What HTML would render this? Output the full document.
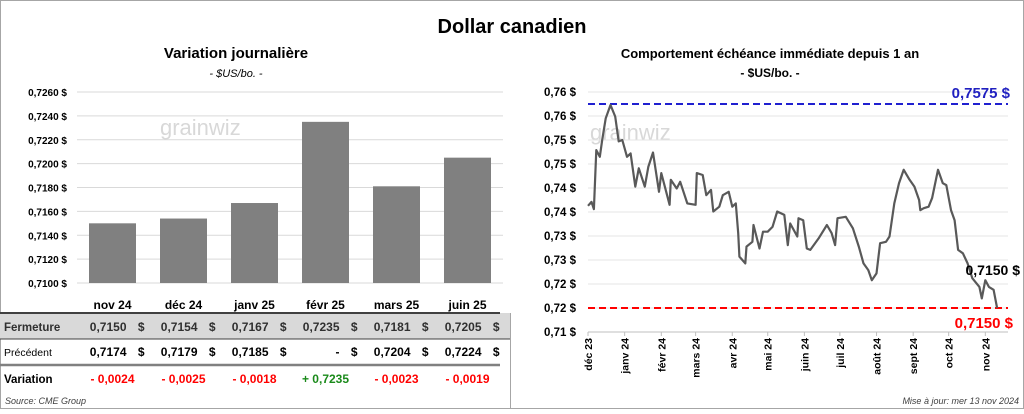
<!DOCTYPE html>
<html><head><meta charset="utf-8"><style>
body{margin:0;width:1024px;height:409px;overflow:hidden;background:#fff;font-family:"Liberation Sans",sans-serif}
svg text{font-family:"Liberation Sans",sans-serif}
</style></head><body>
<svg id="s" width="1024" height="409" xmlns="http://www.w3.org/2000/svg">
<rect x="0.5" y="0.5" width="1023" height="408" fill="#fff" stroke="#a6a6a6"/>
<text x="512" y="33" text-anchor="middle" font-size="20" font-weight="bold">Dollar canadien</text>
<text x="236" y="58" text-anchor="middle" font-size="15" font-weight="bold">Variation  journalière</text>
<text x="236" y="77" text-anchor="middle" font-size="11" font-style="italic">- $US/bo. -</text>
<text x="770" y="58" text-anchor="middle" font-size="13" font-weight="bold">Comportement échéance immédiate depuis 1 an</text>
<text x="770" y="77" text-anchor="middle" font-size="12" font-weight="bold">- $US/bo. -</text>
<text x="160" y="135" font-size="22" fill="#d8d8d8">grainwiz</text>
<text x="590" y="140" font-size="22" fill="#d8d8d8">grainwiz</text>
<g id="left"></g><g id="right"></g><g id="table"></g>
<line x1="510.5" y1="313" x2="510.5" y2="409" stroke="#a6a6a6"/>
<text x="5" y="404" font-size="9" font-style="italic" fill="#404040">Source: CME Group</text>
<text x="1019" y="404" text-anchor="end" font-size="9" font-style="italic" fill="#404040">Mise à jour: mer 13 nov 2024</text>
</svg>
<script>
const NS="http://www.w3.org/2000/svg";
const barCats=["nov 24","déc 24","janv 25","févr 25","mars 25","juin 25"];
const barVals=[0.7150,0.7154,0.7167,0.7235,0.7181,0.7205];
const prevVals=[0.7174,0.7179,0.7185,null,0.7204,0.7224];
const leftTicks=[0.7100,0.7120,0.7140,0.7160,0.7180,0.7200,0.7220,0.7240,0.7260];
const rightTicks=[0.710,0.715,0.720,0.725,0.730,0.735,0.740,0.745,0.750,0.755,0.760];
const monthLabels=["déc 23","janv 24","févr 24","mars 24","avr 24","mai 24","juin 24","juil 24","août 24","sept 24","oct 24","nov 24"];
const monthDays=[0,31,62,91,122,152,183,213,244,275,305,336];
const lineDays=[0,3,5,7,10,12,15,19,23,26,29,33,36,40,43,48,51,55,60,62,69,70,75,78,84,91,92,97,100,104,106,111,114,119,122,125,127,128,133,134,139,140,145,148,152,156,160,166,169,171,177,178,182,185,188,195,202,206,209,211,218,224,229,233,237,240,244,247,252,255,259,263,267,272,276,280,281,284,288,291,296,300,303,307,310,313,317,321,325,331,333,336,339,343,346];
const lineVals=[0.7363,0.7371,0.7356,0.7479,0.7465,0.7500,0.7545,0.7573,0.7549,0.7497,0.7500,0.7465,0.7472,0.7403,0.7441,0.7403,0.7444,0.7474,0.7392,0.7431,0.7365,0.7417,0.7399,0.7413,0.7368,0.7365,0.7431,0.7427,0.7385,0.7396,0.7351,0.7361,0.7385,0.7392,0.7361,0.7368,0.7306,0.7257,0.7243,0.7278,0.7288,0.7323,0.7274,0.7309,0.7309,0.7319,0.7351,0.7344,0.7281,0.7326,0.7299,0.7337,0.7333,0.7274,0.7271,0.7295,0.7323,0.7306,0.7281,0.7337,0.7340,0.7316,0.7278,0.7243,0.7229,0.7208,0.7222,0.7285,0.7288,0.7299,0.7368,0.7410,0.7438,0.7417,0.7403,0.7375,0.7354,0.7358,0.7361,0.7379,0.7438,0.7410,0.7406,0.7354,0.7333,0.7271,0.7264,0.7243,0.7212,0.7194,0.7170,0.7208,0.7194,0.7188,0.7150];
const highVal=0.7575, lowVal=0.7150;

function el(tag,attrs,parent,txt){const e=document.createElementNS(NS,tag);for(const k in attrs)e.setAttribute(k,attrs[k]);if(txt!=null)e.textContent=txt;parent.appendChild(e);return e;}
const fmt=(v,d)=>(Math.round(v*Math.pow(10,d)+1e-6)/Math.pow(10,d)).toFixed(d).replace('.',',');

// left bar chart
const L=document.getElementById('left');
const ly=v=>283-(v-0.7100)/0.0160*191;
const lx0=77,lx1=503,bw=(lx1-lx0)/barCats.length;
leftTicks.forEach(t=>{
 const g=el('line',{x1:lx0,x2:lx1,y1:ly(t),y2:ly(t),stroke:'#d9d9d9'},L);
 
 
 const tx=el('text',{x:67,y:ly(t)+4,'text-anchor':'end','font-size':10,'font-weight':'bold'},L,fmt(t,4)+' $');
 
 
});
barCats.forEach((c,i)=>{
 const cx=lx0+bw*(i+0.5);
 const r=el('rect',{x:cx-23.5,y:ly(barVals[i]),width:47,height:283-ly(barVals[i]),fill:'#808080'},L);
 
 
 const t=el('text',{x:cx,y:309,'text-anchor':'middle','font-size':12,'font-weight':'bold'},L,c);
 
 
});

// table
const T=document.getElementById('table');
el('rect',{x:0,y:313,width:510,height:26,fill:'#d9d9d9'},T);
el('line',{x1:0,x2:500,y1:313,y2:313,stroke:'#404040','stroke-width':2},T);
el('line',{x1:0,x2:510,y1:339,y2:339,stroke:'#404040','stroke-width':1},T);
el('line',{x1:0,x2:500,y1:365,y2:365,stroke:'#808080','stroke-width':2.5},T);
const rl=[['Fermeture',331,true],['Précédent',356,false],['Variation',383,true]];
rl.forEach(r=>{const t=el('text',{x:4,y:r[1],'font-size':r[2]?11.5:10.5,'font-weight':r[2]?'bold':'normal',fill:r[0]=='Fermeture'?'#303030':'#000'},T,r[0]);
 
 });
barCats.forEach((c,i)=>{
 const cx=lx0+bw*(i+0.5);
 const a=el('text',{x:cx+14,y:331,'text-anchor':'end','font-size':12,'font-weight':'bold',fill:'#303030'},T,fmt(barVals[i],4));
 
 
 el('text',{x:cx+32,y:331,'text-anchor':'end','font-size':12,'font-weight':'bold',fill:'#303030'},T,'$');
 const p=el('text',{x:cx+14,y:356,'text-anchor':'end','font-size':12,'font-weight':'bold'},T,prevVals[i]==null?'-':fmt(prevVals[i],4));
 
 
 el('text',{x:cx+32,y:356,'text-anchor':'end','font-size':12,'font-weight':'bold'},T,'$');
 const d=prevVals[i]==null?barVals[i]:barVals[i]-prevVals[i];
 const v=el('text',{x:cx,y:383,'text-anchor':'middle','font-size':12,'font-weight':'bold',fill:d>=0?'#1a8a1a':'#ff0000'},T,(d>=0?'+ ':'- ')+fmt(Math.abs(d),4));
 
 
});

// right line chart
const R=document.getElementById('right');
const ry=v=>332-(v-0.710)/0.005*24;
const rx=d=>588+d*1.1825;
rightTicks.forEach(t=>{
 const g=el('line',{x1:588,x2:1008,y1:ry(t),y2:ry(t),stroke:t==0.710?'#bfbfbf':'#e6e6e6'},R);
 
 
 const tx=el('text',{x:576,y:ry(t)+4,'text-anchor':'end','font-size':11.5,'font-weight':'bold'},R,fmt(t,2)+' $');
 
 
});
monthLabels.forEach((m,i)=>{
 const x=rx(monthDays[i]);
 el('line',{x1:x,x2:x,y1:332,y2:336,stroke:'#bfbfbf'},R);
 const t=el('text',{transform:`translate(${x+4},338) rotate(-90)`,'text-anchor':'end','font-size':10.5,'font-weight':'bold'},R,m);
 
 
});
const hl=el('line',{x1:588,x2:1008,y1:ry(highVal),y2:ry(highVal),stroke:'#2020d0','stroke-width':2,'stroke-dasharray':'7,4'},R);


const lo=el('line',{x1:588,x2:1008,y1:ry(lowVal),y2:ry(lowVal),stroke:'#ff0000','stroke-width':2,'stroke-dasharray':'7,4'},R);


const pts=lineDays.map((d,i)=>rx(d).toFixed(1)+','+ry(lineVals[i]).toFixed(1)).join(' ');
const pl=el('polyline',{points:pts,fill:'none',stroke:'#595959','stroke-width':2.2,'stroke-linejoin':'round'},R);


const ht=el('text',{x:1010,y:98,'text-anchor':'end','font-size':15,'font-weight':'bold',fill:'#2020c0'},R,fmt(highVal,4)+' $');


const lt=el('text',{x:1013,y:328,'text-anchor':'end','font-size':15,'font-weight':'bold',fill:'#ff0000'},R,fmt(lowVal,4)+' $');


const ct=el('text',{x:1020,y:275,'text-anchor':'end','font-size':14,'font-weight':'bold'},R,fmt(lineVals[lineVals.length-1],4)+' $');


</script>
</body></html>
